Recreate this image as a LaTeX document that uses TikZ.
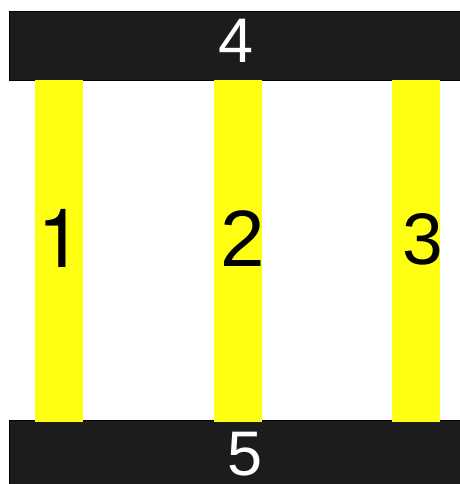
\documentclass[tikz,border=0pt]{standalone}
\usepackage{fontspec}
\setmainfont{Liberation Sans}
\newfontfamily\heros{TeX Gyre Heros}
\usepackage{tikz}
\usetikzlibrary{positioning}
\definecolor{railgray}{RGB}{28,28,28}
\definecolor{postyellow}{RGB}{255,255,20}

\begin{document}
\begin{tikzpicture}[
  x=1pt, y=-1pt,
  rail/.style={draw=black, fill=railgray, line width=1pt, inner sep=0pt, minimum width=452pt},
  post/.style={fill=postyellow, inner sep=0pt, minimum width=48pt, minimum height=341pt},
  num/.style={inner sep=0pt, anchor=center, font=\rmfamily}
]
\useasboundingbox (0,0) rectangle (459,484);
\node[rail, minimum height=69pt] (top) at (235.5,46.5) {};
\node[rail, minimum height=66pt] (bottom) at (235.5,453) {};
\node[post] (p1) at (59,251) {};
\node[post] (p2) at (238,251) {};
\node[post] (p3) at (416,251) {};
\node[num] (n1) at (60,238.5) {\heros\fontsize{82}{82}\selectfont 1};
\node[num] (n2) at (243,238.5) {\fontsize{80}{80}\selectfont 2};
\node[num] (n3) at (423,239) {\fontsize{73}{73}\selectfont 3};
\node[num, text=white] (n4) at (236,40.5) {\fontsize{63}{63}\selectfont 4};
\node[num, text=white] (n5) at (245.5,454) {\fontsize{63}{63}\selectfont 5};
\end{tikzpicture}
\end{document}
